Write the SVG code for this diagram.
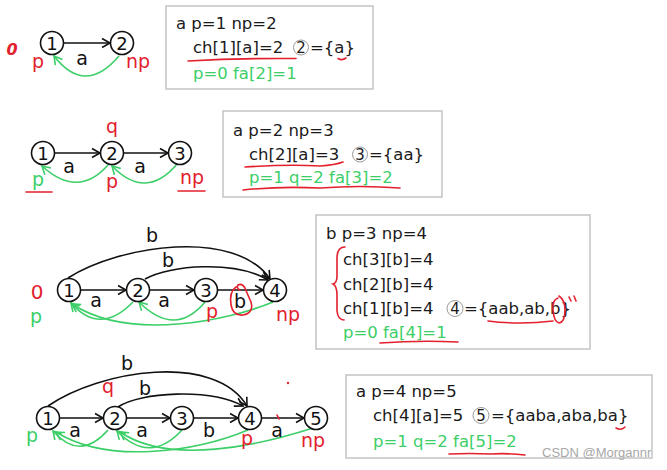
<svg xmlns="http://www.w3.org/2000/svg" width="667" height="470" viewBox="0 0 667 470">
<style>
.bg{fill:#fff}
.box{fill:#fff;stroke:#c4c4c4;stroke-width:1.5}
.t{font-family:"DejaVu Sans","Noto Sans",sans-serif;font-size:16.5px;fill:#1a1a1a}
.g{fill:#3ccf68}
.node circle{fill:#fff;stroke:#111;stroke-width:1.6}
.node text{font-family:"DejaVu Sans","Noto Sans",sans-serif;font-size:18px;fill:#111;text-anchor:middle}
.lab{font-family:"DejaVu Sans","Noto Sans",sans-serif;font-size:19px;fill:#111;text-anchor:middle}
.red{font-family:"DejaVu Sans","Noto Sans",sans-serif;font-size:19px;fill:#e3202d;text-anchor:middle}
.grn{font-family:"DejaVu Sans","Noto Sans",sans-serif;font-size:19px;fill:#3ccf68;text-anchor:middle}
.cc{fill:#fff;stroke:#999;stroke-width:1}
.ct{font-family:"DejaVu Sans","Noto Sans",sans-serif;font-size:15px;fill:#1a1a1a;text-anchor:middle}
.e{fill:none;stroke:#111;stroke-width:1.6;marker-end:url(#ab)}
.f{fill:none;stroke:#3ccf68;stroke-width:1.6;marker-end:url(#ag)}
.rm{fill:none;stroke:#e3202d;stroke-width:1.6;stroke-linecap:round}
</style>
<defs>
<marker id="ab" markerUnits="userSpaceOnUse" markerWidth="12" markerHeight="12" refX="9" refY="5" orient="auto" viewBox="0 0 12 10">
<path d="M1,0.5 L9,5 L1,9.5" fill="none" stroke="#111" stroke-width="1.6"/>
</marker>
<marker id="ag" markerUnits="userSpaceOnUse" markerWidth="12" markerHeight="12" refX="9" refY="5" orient="auto" viewBox="0 0 12 10">
<path d="M1,0.5 L9,5 L1,9.5" fill="none" stroke="#3ccf68" stroke-width="1.6"/>
</marker>
</defs>
<rect class="bg" x="0" y="0" width="667" height="470"/>

<!-- ===== Section 1 ===== -->
<g id="connectors-1">
<line class="e" x1="63.5" y1="43" x2="110" y2="43"/>
<path class="f" d="M119,56 Q85,96 54,56"/>
</g>
<g id="s1-n1" class="node"><circle cx="52" cy="43" r="11.5"/><text x="52" y="49.5">1</text></g>
<g id="s1-n2" class="node"><circle cx="122" cy="43" r="11.5"/><text x="122" y="49.5">2</text></g>
<text class="lab" x="82" y="65">a</text>
<text class="red" x="38" y="68">p</text>
<text class="red" x="138" y="68">np</text>
<text x="12" y="55" style="font-family:'DejaVu Sans',sans-serif;font-size:16px;font-style:italic;font-weight:bold;fill:#e3202d;text-anchor:middle">0</text>

<g id="box1">
<rect class="box" x="166" y="6" width="207" height="83"/>
<text class="t" x="176" y="29">a p=1 np=2</text>
<text class="t" x="193" y="53">ch[1][a]=2</text>
<circle class="cc" cx="301" cy="47.5" r="7.5"/>
<text class="ct" x="301" y="53">2</text>
<text class="t" x="310" y="53">={a}</text>
<text class="t g" x="193" y="79">p=0 fa[2]=1</text>
<path class="rm" d="M188,61 Q240,58 296,58.5"/>
<path class="rm" d="M338,58.5 Q342,61 346,58"/>
</g>

<!-- ===== Section 2 ===== -->
<g id="connectors-2">
<line class="e" x1="54.5" y1="153" x2="100" y2="153"/>
<line class="e" x1="123.5" y1="153" x2="168" y2="153"/>
<path class="f" d="M108,165 Q78,199 42,166"/>
<path class="f" d="M177,164 Q146,201 112,166"/>
</g>
<g id="s2-n1" class="node"><circle cx="43" cy="153" r="11.5"/><text x="43" y="159.5">1</text></g>
<g id="s2-n2" class="node"><circle cx="112" cy="153" r="11.5"/><text x="112" y="159.5">2</text></g>
<g id="s2-n3" class="node"><circle cx="180" cy="153" r="11.5"/><text x="180" y="159.5">3</text></g>
<text class="lab" x="69" y="173">a</text>
<text class="lab" x="140" y="173">a</text>
<text class="red" x="112" y="133">q</text>
<text class="grn" x="38" y="186">p</text>
<text class="red" x="112" y="188">p</text>
<text class="red" x="192" y="184">np</text>
<path class="rm" d="M26,192 L52,192"/>
<path class="rm" d="M178,191 L205,191"/>

<g id="box2">
<rect class="box" x="223" y="111" width="219" height="86"/>
<text class="t" x="233" y="136">a p=2 np=3</text>
<text class="t" x="249" y="160">ch[2][a]=3</text>
<circle class="cc" cx="360" cy="154.5" r="7.5"/>
<text class="ct" x="360" y="160">3</text>
<text class="t" x="369" y="160">={aa}</text>
<text class="t g" x="249" y="183">p=1 q=2 fa[3]=2</text>
<path class="rm" d="M245,167 Q290,164 320,166 Q335,165 343,162"/>
<path class="rm" d="M243,190 Q280,186 320,188 Q360,185 400,188"/>
</g>

<!-- ===== Section 3 ===== -->
<g id="connectors-3">
<line class="e" x1="80.5" y1="290" x2="126" y2="290"/>
<line class="e" x1="149.5" y1="290" x2="194" y2="290"/>
<line class="e" x1="217.5" y1="290" x2="263" y2="290"/>
<path class="e" d="M68,278 C120,245 235,228 270,279"/>
<path class="e" d="M145,279 C170,265 235,260 268,280"/>
<path class="f" d="M205,302 Q175,338 139,302"/>
<path class="f" d="M133,302 Q100,336 71,303"/>
<path class="f" d="M273,302 C230,320 130,342 72,304"/>
</g>
<g id="s3-n1" class="node"><circle cx="69" cy="290" r="11.5"/><text x="69" y="296.5">1</text></g>
<g id="s3-n2" class="node"><circle cx="138" cy="290" r="11.5"/><text x="138" y="296.5">2</text></g>
<g id="s3-n3" class="node"><circle cx="206" cy="290" r="11.5"/><text x="206" y="296.5">3</text></g>
<g id="s3-n4" class="node"><circle cx="275" cy="290" r="11.5"/><text x="275" y="296.5">4</text></g>
<text class="lab" x="96" y="307">a</text>
<text class="lab" x="164" y="307">a</text>
<text class="lab" x="240" y="308">b</text>
<text class="lab" x="152" y="242">b</text>
<text class="lab" x="168" y="267">b</text>
<text x="37" y="299" style="font-family:'DejaVu Sans',sans-serif;font-size:20px;fill:#e3202d;text-anchor:middle">0</text>
<text class="grn" x="36" y="323">p</text>
<text class="red" x="212" y="318">p</text>
<text class="red" x="288" y="321">np</text>
<path class="rm" d="M236,287 Q229,292 231,305 Q233,316 243,315 Q254,313 251,302 Q247,293 245,288 Q242,283 238,285 Q236,288 240,290"/>

<g id="box3">
<rect class="box" x="316" y="215" width="274" height="134"/>
<text class="t" x="326" y="239">b p=3 np=4</text>
<text class="t" x="343" y="265">ch[3][b]=4</text>
<text class="t" x="343" y="290">ch[2][b]=4</text>
<text class="t" x="343" y="314">ch[1][b]=4</text>
<circle class="cc" cx="455" cy="308.5" r="8"/>
<text class="ct" x="455" y="314">4</text>
<text class="t" x="464" y="314">={aab,ab,b}</text>
<text class="t g" x="343" y="338">p=0 fa[4]=1</text>
<path class="rm" d="M345,247 Q337,247 337,258 L337,276 Q337,283 333,284 Q337,286 337,295 L337,311 Q338,320 344,320"/>
<path class="rm" d="M488,321 Q520,325 553,321"/>
<path class="rm" d="M558,298 Q552,300 553,310 Q554,322 559,323 Q565,322 565,310 Q565,300 559,296"/>
<path class="rm" d="M569,297 L571,301 M574,296 L576,301"/>
<path class="rm" d="M380,343 Q420,340 458,342"/>
</g>

<!-- ===== Section 4 ===== -->
<g id="connectors-4">
<line class="e" x1="59.5" y1="418" x2="103" y2="418"/>
<line class="e" x1="126.5" y1="418" x2="170" y2="418"/>
<line class="e" x1="193.5" y1="418" x2="238" y2="418"/>
<line class="e" x1="261.5" y1="418" x2="304" y2="418"/>
<path class="e" d="M48,406 C100,370 215,352 247,406"/>
<path class="e" d="M118,407 C140,392 210,388 243,406"/>
<path class="f" d="M108,430 Q80,462 53,431"/>
<path class="f" d="M182,430 Q150,465 117,431"/>
<path class="f" d="M248,430 C200,450 110,466 56,432"/>
<path class="f" d="M313,428 C260,445 170,466 120,432"/>
</g>
<g id="s4-n1" class="node"><circle cx="48" cy="418" r="11.5"/><text x="48" y="424.5">1</text></g>
<g id="s4-n2" class="node"><circle cx="115" cy="418" r="11.5"/><text x="115" y="424.5">2</text></g>
<g id="s4-n3" class="node"><circle cx="182" cy="418" r="11.5"/><text x="182" y="424.5">3</text></g>
<g id="s4-n4" class="node"><circle cx="250" cy="418" r="11.5"/><text x="250" y="424.5">4</text></g>
<g id="s4-n5" class="node"><circle cx="316" cy="418" r="11.5"/><text x="316" y="424.5">5</text></g>
<text class="lab" x="75" y="437">a</text>
<text class="lab" x="142" y="437">a</text>
<text class="lab" x="209" y="437">b</text>
<text class="lab" x="277" y="437">a</text>
<text class="lab" x="127" y="370">b</text>
<text class="lab" x="145" y="395">b</text>
<text class="red" x="108" y="393">q</text>
<text class="grn" x="32" y="442">p</text>
<text class="red" x="247" y="445">p</text>
<text class="red" x="313" y="447">np</text>
<path class="rm" d="M277,415 L279,419"/>
<circle cx="288" cy="383" r="1.2" fill="#e3202d"/>

<g id="box4">
<rect class="box" x="346" y="375" width="306" height="83"/>
<text class="t" x="356" y="397">a p=4 np=5</text>
<text class="t" x="373" y="421">ch[4][a]=5</text>
<circle class="cc" cx="481" cy="415.5" r="8"/>
<text class="ct" x="481" y="421">5</text>
<text class="t" x="491" y="421">={aaba,aba,ba}</text>
<text class="t g" x="373" y="447">p=1 q=2 fa[5]=2</text>
<path class="rm" d="M616,428 Q621,431 625,427"/>
<path class="rm" d="M449,454 Q470,453 490,454 Q508,453 525,455"/>
</g>
<text x="542" y="457" style="font-family:'Liberation Sans',Arial,sans-serif;font-size:13px;fill:#a8a8a8">CSDN @Morgannr</text>
</svg>
